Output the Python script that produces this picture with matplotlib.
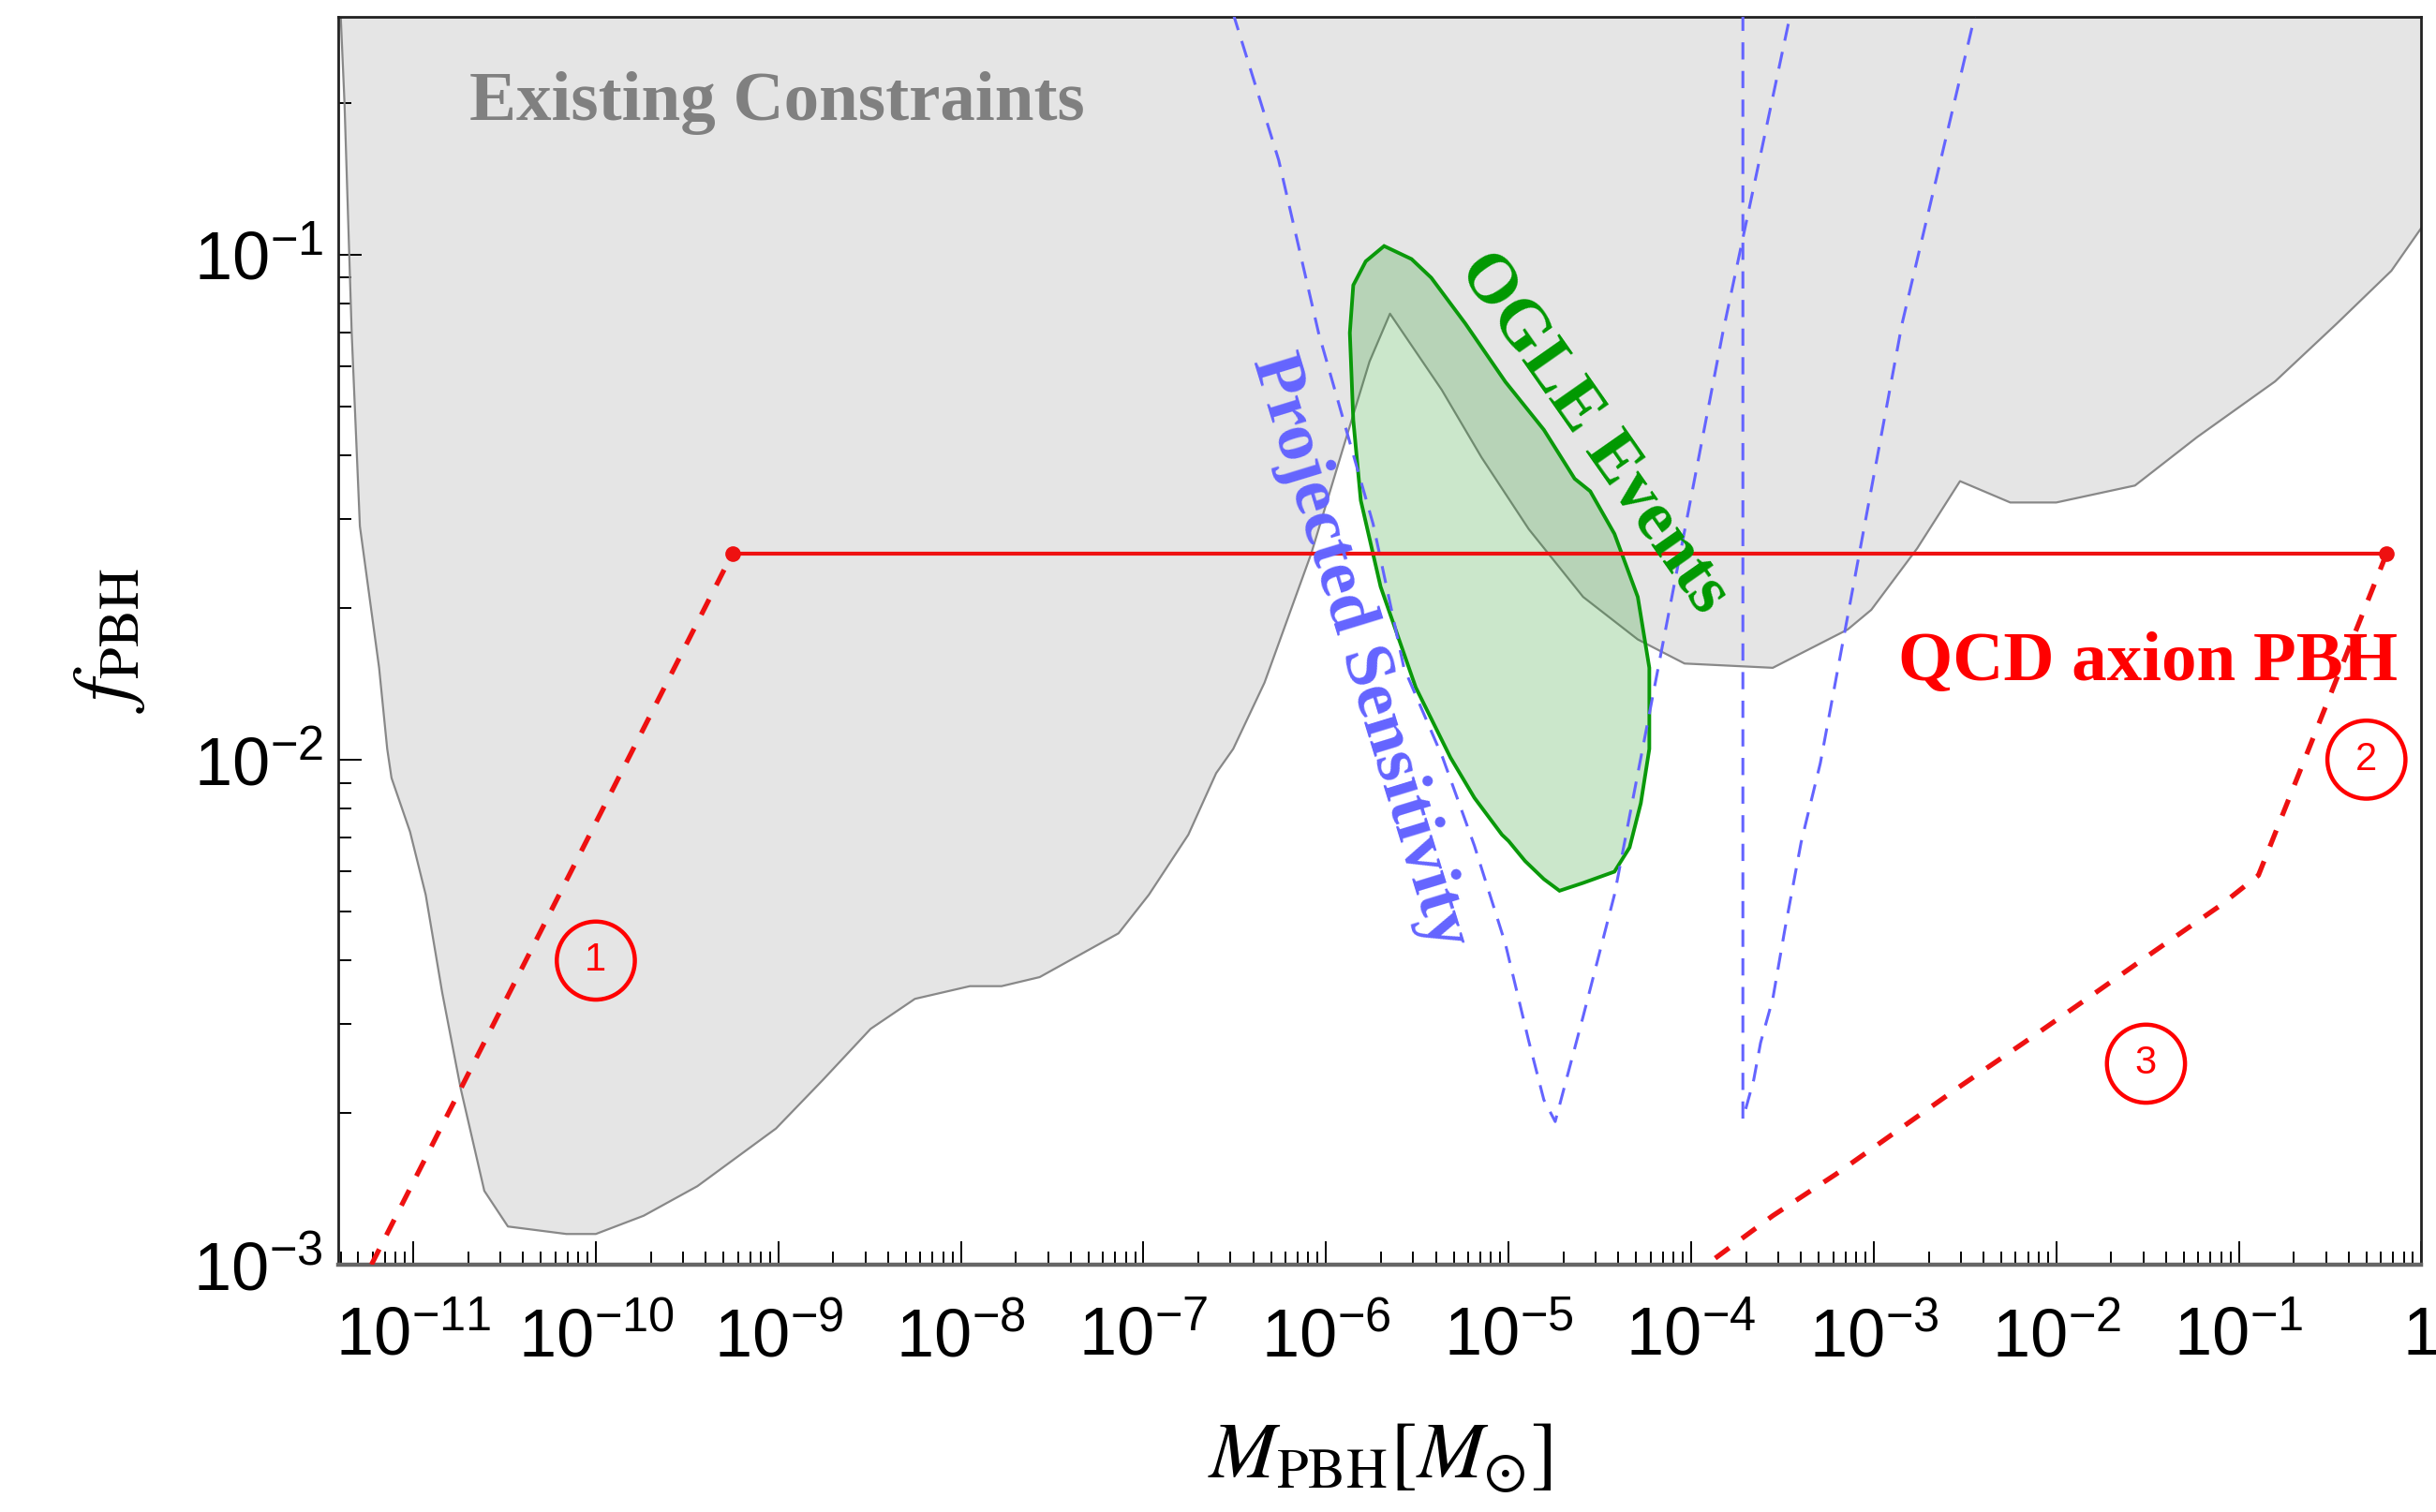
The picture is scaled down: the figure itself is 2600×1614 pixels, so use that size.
import math
import matplotlib
matplotlib.use("Agg")
import matplotlib.pyplot as plt
from matplotlib.ticker import LogLocator, FuncFormatter, NullFormatter

plt.rcParams['font.family'] = ['Liberation Sans', 'DejaVu Sans']
plt.rcParams['mathtext.fontset'] = 'custom'
plt.rcParams['mathtext.rm'] = 'Liberation Sans'
plt.rcParams['mathtext.it'] = 'Liberation Sans:italic'
plt.rcParams['mathtext.bf'] = 'Liberation Sans:bold'

# existing constraints (lower boundary of the excluded region)
ec_mass = [4.0e-12, 4.2e-12, 4.6e-12, 5.1e-12, 6.5e-12, 7.2e-12, 7.6e-12, 9.6e-12,
           1.17e-11, 1.44e-11, 1.82e-11, 2.45e-11, 3.3e-11, 6.9e-11, 1.0e-10, 1.83e-10,
           3.6e-10, 9.7e-10, 1.75e-9, 3.2e-9, 5.6e-9, 1.12e-8, 1.67e-8, 2.7e-8,
           7.3e-8, 1.07e-7, 1.76e-7, 2.5e-7, 3.1e-7, 4.6e-7, 8.3e-7, 1.22e-6,
           1.73e-6, 2.24e-6, 4.3e-6, 7.1e-6, 1.29e-5, 2.56e-5, 5.1e-5, 9.2e-5,
           2.8e-4, 7.2e-4, 9.7e-4, 1.73e-3, 2.97e-3, 5.6e-3, 1.0e-2, 2.7e-2,
           5.9e-2, 0.158, 0.345, 0.685, 1.0]
ec_f = [0.30, 0.20, 0.070, 0.029, 0.0152, 0.0105, 0.0092, 0.0072,
        0.0054, 0.00346, 0.00223, 0.0014, 0.00119, 0.00115, 0.00115, 0.00125,
        0.00143, 0.00186, 0.00232, 0.00293, 0.00336, 0.00356, 0.00356, 0.00371,
        0.00453, 0.0054, 0.0071, 0.0094, 0.0105, 0.0142, 0.0256, 0.0406,
        0.0614, 0.0764, 0.054, 0.0397, 0.0286, 0.0210, 0.0173, 0.0155,
        0.0152, 0.0181, 0.0198, 0.0262, 0.0356, 0.0323, 0.0323, 0.0349,
        0.0435, 0.0561, 0.0731, 0.0929, 0.113]

# OGLE events contour
ogle_mass = [2.08e-6, 2.94e-6, 3.77e-6, 5.8e-6, 9.6e-6, 1.56e-5, 2.3e-5, 2.8e-5,
             3.8e-5, 5.1e-5, 5.9e-5, 5.9e-5, 5.3e-5, 4.6e-5, 3.8e-5, 2.56e-5,
             1.9e-5, 1.56e-5, 1.23e-5, 1.0e-5, 9.2e-6, 6.5e-6, 4.8e-6, 3.1e-6,
             1.99e-6, 1.55e-6, 1.41e-6, 1.35e-6, 1.41e-6, 1.65e-6]
ogle_f = [0.104, 0.098, 0.090, 0.073, 0.056, 0.045, 0.036, 0.034,
          0.028, 0.021, 0.0152, 0.0105, 0.0082, 0.0067, 0.0060, 0.0057,
          0.0055, 0.0058, 0.0063, 0.0069, 0.0071, 0.0084, 0.0101, 0.0139,
          0.022, 0.0326, 0.047, 0.070, 0.087, 0.097]

# projected sensitivity (two V-shaped curves)
ps1_mass = [3.1e-7, 5.5e-7, 9.1e-7, 1.81e-6, 2.67e-6, 4.35e-6, 6.5e-6, 9.6e-6,
            1.29e-5, 1.56e-5, 1.8e-5, 2.56e-5, 3.8e-5, 1.49e-4, 3.5e-4]
ps1_f = [0.30, 0.154, 0.070, 0.0293, 0.0152, 0.0101, 0.00675, 0.00432,
         0.00277, 0.00212, 0.00192, 0.0031, 0.0054, 0.070, 0.30]
ps2_mass = [1.92e-4, 1.92e-4, 2.2e-4, 2.4e-4, 2.8e-4, 3.26e-4, 4.0e-4, 5.1e-4, 1.43e-3, 3.6e-3]
ps2_f = [0.30, 0.00194, 0.00232, 0.00275, 0.00336, 0.00461, 0.00685, 0.00984, 0.073, 0.30]

# QCD axion PBH
qcd_flat_mass = [5.6e-10, 0.645]
qcd_flat_f = [0.0256, 0.0256]
qcd1_mass = [5.9e-12, 5.6e-10]
qcd1_f = [1.0e-3, 0.0256]
qcd23_mass = [0.645, 0.128, 0.0796, 0.034, 0.0154, 0.00664, 0.0030, 0.00143,
              6.2e-4, 2.8e-4, 1.26e-4]
qcd23_f = [0.0256, 0.0059, 0.00515, 0.00416, 0.0034, 0.00275, 0.00226, 0.00187,
           0.00151, 0.00125, 0.00101]

red = '#ee1111'
blue = '#6464ff'
green = '#0a990a'

fig = plt.figure(figsize=(13, 8.07), dpi=200)
ax = fig.add_axes([0.139, 0.1636, 0.855, 0.8254])

ax.fill_between(ec_mass, ec_f, 1.0, facecolor='#e5e5e5', edgecolor='none', zorder=1)
ax.plot(ec_mass, ec_f, color='#888888', lw=0.8, zorder=2)

ax.fill(ogle_mass, ogle_f, facecolor='#229922', alpha=0.23, edgecolor='none', zorder=3)
ax.fill(ogle_mass, ogle_f, facecolor='none', edgecolor=green, lw=1.4, zorder=4)

ax.plot(ps1_mass, ps1_f, color=blue, lw=1.1, dashes=(6, 4), zorder=5)
ax.plot(ps2_mass, ps2_f, color=blue, lw=1.1, dashes=(6, 4), zorder=5)

ax.plot(qcd_flat_mass, qcd_flat_f, color=red, lw=1.5, marker='o', ms=5, zorder=6)
ax.plot(qcd1_mass, qcd1_f, color=red, lw=1.9, dashes=(3.5, 3.2), zorder=6)
ax.plot(qcd23_mass, qcd23_f, color=red, lw=1.9, dashes=(3.5, 3.2), zorder=6)

ax.set_xscale('log')
ax.set_yscale('log')
ax.set_xlim(3.9e-12, 1.0)
ax.set_ylim(1e-3, 0.296)


def pow_label(v, pos):
    if abs(v - 1.0) < 1e-9:
        return '1'
    return r'$10^{%d}$' % int(round(math.log10(v)))


ax.xaxis.set_major_locator(LogLocator(base=10, numticks=30))
ax.xaxis.set_minor_locator(LogLocator(base=10, subs=range(2, 10), numticks=30))
ax.yaxis.set_major_locator(LogLocator(base=10, numticks=10))
ax.yaxis.set_minor_locator(LogLocator(base=10, subs=range(2, 10), numticks=10))
ax.xaxis.set_major_formatter(FuncFormatter(pow_label))
ax.yaxis.set_major_formatter(FuncFormatter(pow_label))
ax.xaxis.set_minor_formatter(NullFormatter())
ax.yaxis.set_minor_formatter(NullFormatter())

ax.tick_params(which='both', direction='in', top=False, right=False, labelsize=26, width=0.7)
ax.tick_params(axis='x', which='major', length=9, pad=16)
ax.tick_params(axis='x', which='minor', length=5)
ax.tick_params(axis='y', which='major', length=9, pad=6)
ax.tick_params(axis='y', which='minor', length=5)

for s in ['left', 'top', 'right']:
    ax.spines[s].set_color('#222222')
    ax.spines[s].set_linewidth(1.0)
ax.spines['bottom'].set_color('#666666')
ax.spines['bottom'].set_linewidth(1.6)

ax.set_xlabel(r'$M_{\mathrm{PBH}}[M_{\odot}]$', fontsize=31, math_fontfamily='stix')
ax.set_ylabel(r'$f_{\mathrm{PBH}}$', fontsize=31, math_fontfamily='stix')
ax.xaxis.set_label_coords(0.5, -0.125)
ax.yaxis.set_label_coords(-0.092, 0.5)

serif = dict(family='Liberation Serif', weight='bold')
ax.text(9.8e-10, 0.20, 'Existing Constraints', color='#808080', fontsize=27,
        ha='center', va='center', zorder=7, **serif)
ax.text(0.0316, 0.0155, 'QCD axion PBH', color='red', fontsize=27,
        ha='center', va='center', zorder=7, **serif)
ax.text(2.9e-5, 0.0443, 'OGLE Events', color='#009900', fontsize=27, rotation=-55,
        rotation_mode='anchor', ha='center', va='center', zorder=7, **serif)
ax.text(1.52e-6, 0.0164, 'Projected Sensitivity', color=blue, fontsize=27, rotation=-73,
        rotation_mode='anchor', ha='center', va='center', zorder=7, **serif)

circ_labels = ['1', '2', '3']
circ_mass = [1.0e-10, 0.5, 0.031]
circ_f = [0.004, 0.0100, 0.0025]
for lab, m, f in zip(circ_labels, circ_mass, circ_f):
    ax.text(m, f, lab, color='red', fontsize=15, ha='center', va='center', zorder=8,
            bbox=dict(boxstyle='circle,pad=0.52', facecolor='none', edgecolor='red', lw=1.6))

fig.savefig('out.png', dpi=200)
